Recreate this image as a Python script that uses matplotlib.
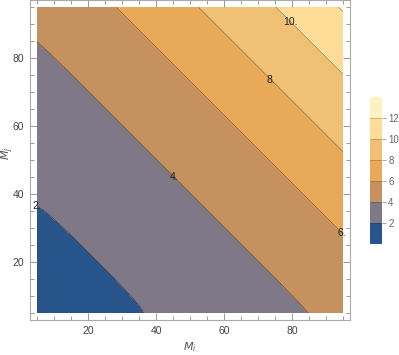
import matplotlib
matplotlib.use("Agg")
import matplotlib.pyplot as plt
from matplotlib.colors import ListedColormap, BoundaryNorm

plt.rcParams['font.family'] = ['Liberation Sans', 'DejaVu Sans']

# grid positions (M_i along x, M_j along y)
mi = [5, 9, 15, 25, 35, 45, 55, 65, 75, 85, 95]
mj = [5, 9, 15, 25, 35, 45, 55, 65, 75, 85, 95]

# values, one row per M_j
z = [
    [1.27, 1.34, 1.48, 1.71, 1.95, 2.29, 2.64, 3.01, 3.50, 4.01, 4.58],
    [1.34, 1.40, 1.54, 1.77, 2.04, 2.38, 2.74, 3.18, 3.67, 4.21, 4.78],
    [1.48, 1.54, 1.68, 1.90, 2.24, 2.58, 2.99, 3.47, 3.98, 4.55, 5.13],
    [1.71, 1.77, 1.90, 2.24, 2.58, 2.99, 3.47, 3.98, 4.55, 5.13, 5.76],
    [1.95, 2.04, 2.24, 2.58, 2.99, 3.47, 3.98, 4.55, 5.13, 5.76, 6.51],
    [2.29, 2.38, 2.58, 2.99, 3.47, 3.98, 4.55, 5.13, 5.76, 6.51, 7.36],
    [2.64, 2.74, 2.99, 3.47, 3.98, 4.55, 5.13, 5.76, 6.51, 7.36, 8.22],
    [3.01, 3.18, 3.47, 3.98, 4.55, 5.13, 5.76, 6.51, 7.36, 8.22, 9.08],
    [3.50, 3.67, 3.98, 4.55, 5.13, 5.76, 6.51, 7.36, 8.22, 9.08, 9.98],
    [4.01, 4.21, 4.55, 5.13, 5.76, 6.51, 7.36, 8.22, 9.08, 9.98, 11.04],
    [4.58, 4.78, 5.13, 5.76, 6.51, 7.36, 8.22, 9.08, 9.98, 11.04, 12.15],
]

levels = [0, 2, 4, 6, 8, 10, 12, 14]
band_colors = ['#28548c', '#7f7886', '#c4915f', '#e8a958', '#f0c175', '#fcdc96', '#fff2c2']
line_levels = [2, 4, 6, 8, 10, 12]
label_levels = [2, 4, 6, 8, 10]
label_text = {2: '2.', 4: '4.', 6: '6.', 8: '8.', 10: '10.'}
label_spots = [(5, 36.5), (44.7, 44.4), (94.4, 28.5), (73.8, 73.5), (79.1, 90.3)]
bar_ticks = [2, 4, 6, 8, 10, 12]

cmap = ListedColormap(band_colors)
norm = BoundaryNorm(levels, cmap.N)

fig = plt.figure(figsize=(3.99, 3.55), dpi=100)
ax = fig.add_axes([30/399, 35/355, 320/399, 320/355])

cf = ax.contourf(mi, mj, z, levels=levels, cmap=cmap, norm=norm)
cs = ax.contour(mi, mj, z, levels=line_levels, colors=[(0, 0, 0, 0.45)], linewidths=0.5)
labels = ax.clabel(cs, label_levels, manual=label_spots, inline=False,
                   fmt=label_text, fontsize=7.5, colors='#222222')
for t in labels:
    t.set_rotation(0)

ax.set_xlim(2.94, 97.06)
ax.set_ylim(2.94, 97.06)
ax.set_xticks([20, 40, 60, 80])
ax.set_yticks([20, 40, 60, 80])
ax.set_xticks(range(5, 100, 5), minor=True)
ax.set_yticks(range(5, 100, 5), minor=True)
ax.tick_params(which='both', direction='in', top=True, right=True,
               color='#888888', width=0.6, labelsize=7.5, labelcolor='#444444')
ax.tick_params(which='major', length=5, pad=4)
ax.tick_params(which='minor', length=3)
for s in ax.spines.values():
    s.set_color('#aaaaaa')
    s.set_linewidth(0.8)

ax.set_xlabel('$M_i$', fontsize=8, color='#555555', labelpad=3)
ax.set_ylabel('$M_j$', fontsize=8, color='#555555')
ax.yaxis.set_label_coords(-0.045, 0.52)

cax = fig.add_axes([370/399, 111/355, 12/399, 147/355])
cbar = fig.colorbar(cf, cax=cax)
cbar.outline.set_visible(False)
cbar.minorticks_off()
cbar.set_ticks(bar_ticks)
for v in bar_ticks:
    cax.axhline(v, color=(0, 0, 0, 0.25), linewidth=0.5)
cax.tick_params(which='both', length=3, width=0.6, color='#999999', labelsize=7,
                labelcolor='#666666', pad=1.5)

fig.savefig("out.png", dpi=100)
